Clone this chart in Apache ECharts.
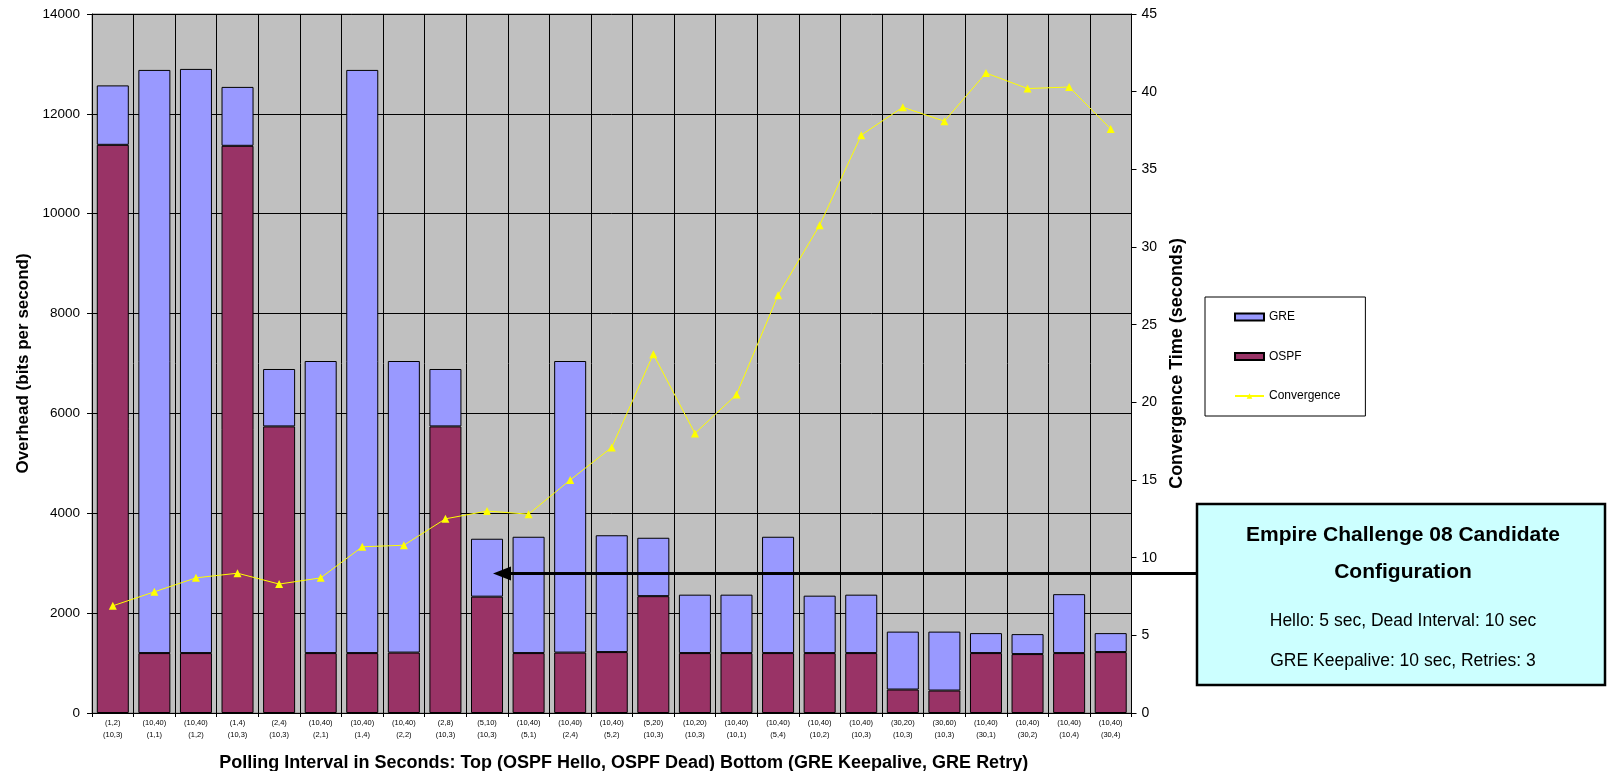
<!DOCTYPE html>
<html>
<head>
<meta charset="utf-8">
<title>Overhead and Convergence Time by Polling Interval</title>
<script src="https://cdn.jsdelivr.net/npm/echarts@6/dist/echarts.min.js"></script>
<style>
  html, body { margin: 0; padding: 0; background: #ffffff; }
  #chart { width: 1609px; height: 771px; }
</style>
</head>
<body>
<div id="chart"></div>
<script>
// Polling intervals: top line (OSPF Hello, OSPF Dead), bottom line (GRE Keepalive, GRE Retry)
const ospfTimers = ['(1,2)', '(10,40)', '(10,40)', '(1,4)', '(2,4)', '(10,40)', '(10,40)', '(10,40)', '(2,8)',
  '(5,10)', '(10,40)', '(10,40)', '(10,40)', '(5,20)', '(10,20)', '(10,40)', '(10,40)', '(10,40)', '(10,40)',
  '(30,20)', '(30,60)', '(10,40)', '(10,40)', '(10,40)', '(10,40)'];
const greTimers = ['(10,3)', '(1,1)', '(1,2)', '(10,3)', '(10,3)', '(2,1)', '(1,4)', '(2,2)', '(10,3)',
  '(10,3)', '(5,1)', '(2,4)', '(5,2)', '(10,3)', '(10,3)', '(10,1)', '(5,4)', '(10,2)', '(10,3)',
  '(10,3)', '(10,3)', '(30,1)', '(30,2)', '(10,4)', '(30,4)'];

// Overhead in bits per second (stacked: OSPF at the bottom, GRE on top)
const ospfOverhead = [11380, 1200, 1200, 11360, 5740, 1200, 1200, 1210, 5740, 2330, 1200, 1210, 1220,
  2340, 1200, 1200, 1200, 1200, 1200, 470, 450, 1200, 1180, 1200, 1220];
const greOverhead = [1190, 11680, 11700, 1180, 1150, 5850, 11680, 5840, 1150, 1160, 2330, 5840, 2340,
  1170, 1170, 1170, 2330, 1150, 1170, 1160, 1180, 400, 400, 1180, 380];

// Convergence time in seconds
const convergence = [6.9, 7.8, 8.7, 9.0, 8.3, 8.7, 10.7, 10.8, 12.5, 13.0, 12.8, 15.0, 17.1, 23.1,
  18.0, 20.5, 26.9, 31.4, 37.2, 39.0, 38.1, 41.2, 40.2, 40.3, 37.6];

// Axis ranges
const overheadAxis = { min: 0, max: 14000, interval: 2000 };
const convergenceAxis = { min: 0, max: 45, interval: 5 };

const categories = ospfTimers.map((t, i) => t + '\n' + greTimers[i]);

const FONT = '"Liberation Sans", Arial, sans-serif';
const chart = echarts.init(document.getElementById('chart'), null, { renderer: 'canvas' });

const barBorder = { borderColor: '#000000', borderWidth: 1 };

chart.setOption({
  animation: false,
  backgroundColor: '#ffffff',
  textStyle: { fontFamily: FONT, color: '#000000' },
  grid: {
    left: 92, right: 477.5, top: 14, bottom: 58,
    outerBoundsMode: 'none',
    containLabel: false,
    show: true, backgroundColor: '#C0C0C0', borderColor: '#808080', borderWidth: 1
  },
  legend: {
    orient: 'vertical',
    left: 1205, top: 297,
    padding: [13, 25, 13, 29],
    itemGap: 25.5,
    itemWidth: 29, itemHeight: 7,
    backgroundColor: '#ffffff',
    borderColor: '#000000', borderWidth: 1,
    textStyle: { fontFamily: FONT, fontSize: 12, color: '#000000', lineHeight: 14 },
    data: [
      { name: 'GRE', icon: 'rect' },
      { name: 'OSPF', icon: 'rect' },
      { name: 'Convergence' }
    ]
  },
  xAxis: {
    type: 'category',
    data: categories,
    boundaryGap: true,
    name: 'Polling Interval in Seconds: Top (OSPF Hello, OSPF Dead) Bottom (GRE Keepalive, GRE Retry)',
    nameLocation: 'middle',
    nameGap: 41,
    nameTextStyle: {
      fontFamily: FONT, fontSize: 18, fontWeight: 'bold', color: '#000000',
      padding: [0, 0, 0, 24]
    },
    axisLine: { show: true, lineStyle: { color: '#000000', width: 1 } },
    axisTick: { show: true, interval: 0, length: 4, lineStyle: { color: '#000000' } },
    axisLabel: {
      interval: 0, margin: 4, fontFamily: FONT, fontSize: 7.5, lineHeight: 12, color: '#000000'
    },
    splitLine: { show: true, interval: 0, lineStyle: { color: '#000000', width: 1 } }
  },
  yAxis: [
    {
      type: 'value',
      min: overheadAxis.min, max: overheadAxis.max, interval: overheadAxis.interval,
      name: 'Overhead (bits per second)',
      nameLocation: 'middle',
      nameRotate: 90,
      nameGap: 56,
      nameTextStyle: { fontFamily: FONT, fontSize: 17, fontWeight: 'bold', color: '#000000' },
      axisLine: { show: true, lineStyle: { color: '#000000', width: 1 } },
      axisTick: { show: true, length: 5, lineStyle: { color: '#000000' } },
      axisLabel: {
        margin: 12, fontFamily: FONT, fontSize: 13.5, color: '#000000',
        formatter: (v) => String(v)
      },
      splitLine: { show: true, lineStyle: { color: '#000000', width: 1 } }
    },
    {
      type: 'value',
      position: 'right',
      min: convergenceAxis.min, max: convergenceAxis.max, interval: convergenceAxis.interval,
      name: 'Convergence Time (seconds)',
      nameLocation: 'middle',
      nameRotate: 90,
      nameGap: 36,
      nameTextStyle: { fontFamily: FONT, fontSize: 18, fontWeight: 'bold', color: '#000000' },
      axisLine: { show: true, lineStyle: { color: '#000000', width: 1 } },
      axisTick: { show: true, length: 5, lineStyle: { color: '#000000' } },
      axisLabel: { margin: 10, fontFamily: FONT, fontSize: 14, color: '#000000' },
      splitLine: { show: false }
    }
  ],
  series: [
    {
      name: 'OSPF',
      type: 'bar',
      stack: 'overhead',
      yAxisIndex: 0,
      barCategoryGap: '23%',
      itemStyle: Object.assign({ color: '#993366' }, barBorder),
      data: ospfOverhead,
      z: 2
    },
    {
      name: 'GRE',
      type: 'bar',
      stack: 'overhead',
      yAxisIndex: 0,
      barCategoryGap: '23%',
      itemStyle: Object.assign({ color: '#9999FF' }, barBorder),
      data: greOverhead,
      z: 2
    },
    {
      name: 'Convergence',
      type: 'line',
      yAxisIndex: 1,
      symbol: 'triangle',
      symbolSize: 8,
      showSymbol: true,
      lineStyle: { color: '#FFFF00', width: 1 },
      itemStyle: { color: '#FFFF00' },
      data: convergence,
      z: 5
    }
  ],
  graphic: [
    // Pointer from the callout to the selected configuration
    {
      type: 'line',
      z: 20,
      shape: { x1: 1197, y1: 573.5, x2: 508, y2: 573.5 },
      style: { stroke: '#000000', lineWidth: 3 }
    },
    {
      type: 'polygon',
      z: 20,
      shape: { points: [[493, 573.5], [511, 566.5], [511, 580.5]] },
      style: { fill: '#000000' }
    },
    // Callout box
    {
      type: 'rect',
      z: 20,
      shape: { x: 1197, y: 504, width: 408, height: 181 },
      style: { fill: '#CCFFFF', stroke: '#000000', lineWidth: 2.5 }
    },
    {
      type: 'text', z: 21, x: 1403, y: 535,
      style: {
        text: 'Empire Challenge 08 Candidate', align: 'center', verticalAlign: 'middle',
        font: 'bold 21px "Liberation Sans", Arial, sans-serif', fill: '#000000'
      }
    },
    {
      type: 'text', z: 21, x: 1403, y: 572,
      style: {
        text: 'Configuration', align: 'center', verticalAlign: 'middle',
        font: 'bold 21px "Liberation Sans", Arial, sans-serif', fill: '#000000'
      }
    },
    {
      type: 'text', z: 21, x: 1403, y: 621,
      style: {
        text: 'Hello: 5 sec, Dead Interval: 10 sec', align: 'center', verticalAlign: 'middle',
        font: '17.5px "Liberation Sans", Arial, sans-serif', fill: '#000000'
      }
    },
    {
      type: 'text', z: 21, x: 1403, y: 661,
      style: {
        text: 'GRE Keepalive: 10 sec, Retries: 3', align: 'center', verticalAlign: 'middle',
        font: '17.5px "Liberation Sans", Arial, sans-serif', fill: '#000000'
      }
    }
  ]
});
</script>
</body>
</html>
